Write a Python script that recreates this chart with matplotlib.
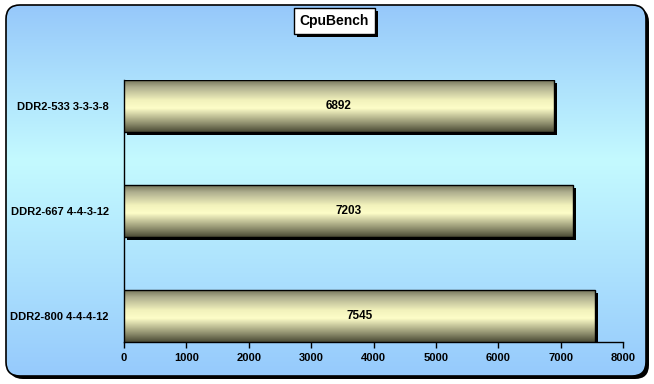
import numpy as np
import matplotlib
matplotlib.use('Agg')
import matplotlib.pyplot as plt
from matplotlib.patches import FancyBboxPatch, Rectangle
from matplotlib.colors import LinearSegmentedColormap
from matplotlib.transforms import ScaledTranslation

categories = ['DDR2-800 4-4-4-12', 'DDR2-667 4-4-3-12', 'DDR2-533 3-3-3-8']
values = [7545, 7203, 6892]
xticks = [0, 1000, 2000, 3000, 4000, 5000, 6000, 7000, 8000]
title = 'CpuBench'

FONT = ['Liberation Sans', 'DejaVu Sans']

fig = plt.figure(figsize=(6.54, 3.84), dpi=100)
fig.patch.set_facecolor('white')

# background panel
bg = fig.add_axes([0, 0, 1, 1])
bg.set_xlim(0, 654)
bg.set_ylim(384, 0)
bg.axis('off')
shadow = FancyBboxPatch((9, 8), 640, 371, boxstyle='round,pad=0,rounding_size=14',
                        fc='black', ec='none', zorder=0)
bg.add_patch(shadow)
box_fill = FancyBboxPatch((6, 5), 640, 371, boxstyle='round,pad=0,rounding_size=14',
                          fc='#b0e0ff', ec='none', zorder=1)
bg.add_patch(box_fill)
bg_cmap = LinearSegmentedColormap.from_list('bg', [(0, '#96c8fa'), (0.42, '#c4faff'), (1.0, '#96cafc')])
yy = np.linspace(0, 1, 256).reshape(-1, 1)
im = bg.imshow(yy, extent=[6, 646, 376, 5], aspect='auto', cmap=bg_cmap, origin='upper', zorder=2)
im.set_clip_path(box_fill)
bg.add_patch(FancyBboxPatch((6, 5), 640, 371, boxstyle='round,pad=0,rounding_size=14',
                            fc='none', ec='black', lw=1.2, zorder=3))
bg.set_xlim(0, 654)
bg.set_ylim(384, 0)

# title box
bg.add_patch(Rectangle((297, 11), 81, 26, fc='black', ec='none', zorder=4))
bg.add_patch(Rectangle((294, 8), 81, 26, fc='white', ec='black', lw=1, zorder=5))
bg.text(334.5, 21, title, ha='center', va='center', fontsize=10, fontweight='bold',
        family=FONT, zorder=6)

# plot axes
ax = fig.add_axes([124 / 654, 42 / 384, 499 / 654, 262 / 384])
ax.set_facecolor('none')
pos = np.arange(len(categories))
h = 0.5

sh = ax.barh(pos, values, height=h, color='black', edgecolor='none', zorder=2)
off = ScaledTranslation(3 / 100, -3 / 100, fig.dpi_scale_trans)
for r in sh:
    r.set_transform(ax.transData + off)

bars = ax.barh(pos, values, height=h, color='none', edgecolor='black', lw=1, zorder=4)
bar_cmap = LinearSegmentedColormap.from_list(
    'bar', [(0, '#4a4a34'), (0.15, '#8a8a6a'), (0.45, '#fdfdc8'), (0.6, '#f2f2bc'),
            (0.85, '#aeae8e'), (1.0, '#6e6e54')])
grad = np.linspace(0, 1, 256).reshape(-1, 1)
for r, p, v in zip(bars, pos, values):
    gi = ax.imshow(grad, extent=[0, v, p - h / 2, p + h / 2], origin='lower',
                   aspect='auto', cmap=bar_cmap, zorder=3)
    gi.set_clip_path(r)
    ax.text(v / 2, p, str(v), ha='center', va='center', fontsize=8.5,
            fontweight='bold', family=FONT, zorder=5)

ax.set_xlim(0, 8000)
ax.set_ylim(-0.25, 2.25)
ax.set_xticks(xticks)
ax.set_xticklabels([str(t) for t in xticks], fontsize=8, fontweight='bold', family=FONT)
ax.set_yticks(pos)
ax.set_yticklabels(categories, fontsize=8, fontweight='bold', family=FONT)
ax.tick_params(axis='x', direction='out', length=4, width=1, pad=4)
ax.tick_params(axis='y', length=0, pad=11)
for s in ['top', 'right']:
    ax.spines[s].set_visible(False)
for s in ['left', 'bottom']:
    ax.spines[s].set_linewidth(1)
    ax.spines[s].set_color('black')

fig.savefig('out.png', dpi=100)
